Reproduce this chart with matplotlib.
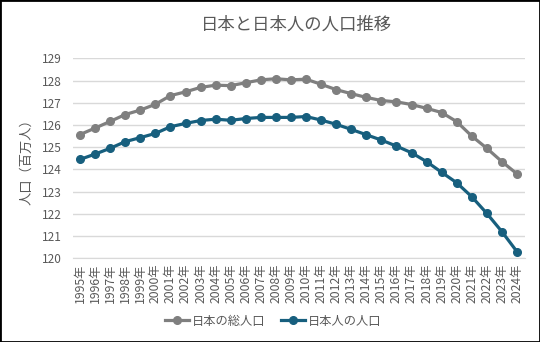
import numpy as np
import matplotlib
matplotlib.use("Agg")
from matplotlib import pyplot as plt
from matplotlib.patches import Rectangle

plt.rcParams['font.family'] = ['Noto Sans CJK JP', 'DejaVu Sans']

years = [str(y) + "年" for y in range(1995, 2025)]
total_pop = [125.57, 125.86, 126.16, 126.47, 126.67, 126.93, 127.32, 127.49, 127.69, 127.79,
             127.77, 127.90, 128.03, 128.08, 128.03, 128.06, 127.83, 127.59, 127.41, 127.24,
             127.10, 127.04, 126.92, 126.75, 126.56, 126.15, 125.50, 124.95, 124.35, 123.80]
japanese_pop = [124.45, 124.69, 124.95, 125.25, 125.43, 125.62, 125.92, 126.07, 126.20, 126.26,
                126.21, 126.29, 126.34, 126.34, 126.34, 126.38, 126.22, 126.03, 125.80, 125.56,
                125.32, 125.05, 124.75, 124.35, 123.87, 123.40, 122.77, 122.02, 121.20, 120.30]

gray = "#7f7f7f"
blue = "#175f7e"
text_col = "#595959"

fig = plt.figure(figsize=(5.4, 3.42), dpi=100)
ax = fig.add_axes([72.5 / 540, 1 - 258.3 / 342, 452 / 540, 200 / 342])

x = np.arange(len(years))
ax.plot(x, total_pop, color=gray, lw=2.3, marker="o", ms=5.5, label="日本の総人口")
ax.plot(x, japanese_pop, color=blue, lw=2.3, marker="o", ms=5.5, label="日本人の人口")

ax.set_xlim(-0.5, len(years) - 0.5)
ax.set_ylim(120, 129)
ax.set_yticks(range(120, 130))
ax.set_xticks(x)
ax.set_xticklabels(years, rotation=90, fontsize=8.8, color=text_col)
ax.tick_params(axis="y", labelsize=8.5, colors=text_col, length=0, pad=8)
ax.tick_params(axis="x", length=0, pad=4)
ax.grid(axis="y", color="#d9d9d9", lw=1)
ax.set_axisbelow(True)
for s in ["top", "right", "left"]:
    ax.spines[s].set_visible(False)
ax.spines["bottom"].set_color("#d9d9d9")

ax.set_ylabel("人口（百万人）", fontsize=9.5, color=text_col, labelpad=6)
fig.text(297 / 540, 1 - 25 / 342, "日本と日本人の人口推移", fontsize=12.5,
         color=text_col, ha="center", va="center")

fig.legend(loc="center", bbox_to_anchor=(273 / 540, 1 - 321 / 342), ncol=2,
           frameon=False, fontsize=8.8, labelcolor=text_col, handlelength=2.0,
           columnspacing=1.3, handletextpad=0.2)

fig.patches.append(Rectangle((0, 0), 1, 1, transform=fig.transFigure,
                             fill=False, edgecolor="black", lw=2))

fig.savefig("out.png", dpi=100)
